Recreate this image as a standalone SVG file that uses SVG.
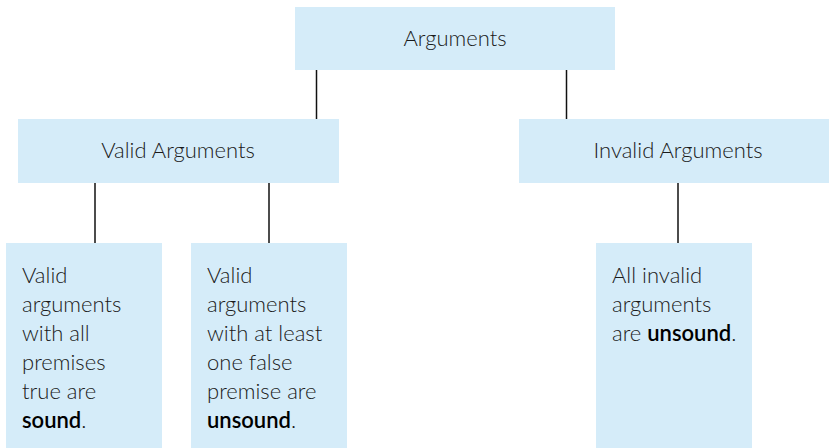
<svg xmlns="http://www.w3.org/2000/svg" width="829" height="448" viewBox="0 0 829 448">
<style>
.box{fill:#d5ecf9}
.t{font-family:"Lato","Liberation Sans",sans-serif;font-size:22px;font-weight:300;fill:#1a1a1a}
.c{text-anchor:middle}
.b{font-weight:600;fill:#000}
.ln{stroke:#111;stroke-width:1.5;fill:none}
</style>
<g id="connectors">
<line class="ln" x1="316.5" y1="70" x2="316.5" y2="119"/>
<line class="ln" x1="566.5" y1="70" x2="566.5" y2="119"/>
<line class="ln" x1="95" y1="183" x2="95" y2="243"/>
<line class="ln" x1="269" y1="183" x2="269" y2="243"/>
<line class="ln" x1="678" y1="183" x2="678" y2="243"/>
</g>
<g id="arguments">
<rect class="box" x="295" y="7" width="320" height="63"/>
<text class="t c" x="455" y="46">Arguments</text>
</g>
<g id="valid">
<rect class="box" x="18" y="119" width="321" height="64"/>
<text class="t c" x="178" y="158">Valid Arguments</text>
</g>
<g id="invalid">
<rect class="box" x="519" y="119" width="318" height="64"/>
<text class="t c" x="678" y="158">Invalid Arguments</text>
</g>
<g id="sound">
<rect class="box" x="6" y="243" width="156" height="205"/>
<text class="t" x="22" y="283">Valid</text>
<text class="t" x="22" y="312">arguments</text>
<text class="t" x="22" y="341">with all</text>
<text class="t" x="22" y="370">premises</text>
<text class="t" x="22" y="399">true are</text>
<text class="t" x="22" y="428"><tspan class="b">sound</tspan>.</text>
</g>
<g id="unsound-valid">
<rect class="box" x="191" y="243" width="156" height="205"/>
<text class="t" x="207" y="283">Valid</text>
<text class="t" x="207" y="312">arguments</text>
<text class="t" x="207" y="341">with at least</text>
<text class="t" x="207" y="370">one false</text>
<text class="t" x="207" y="399">premise are</text>
<text class="t" x="207" y="428"><tspan class="b">unsound</tspan>.</text>
</g>
<g id="unsound-invalid">
<rect class="box" x="596" y="243" width="156" height="205"/>
<text class="t" x="612" y="283">All invalid</text>
<text class="t" x="612" y="312">arguments</text>
<text class="t" x="612" y="341">are <tspan class="b">unsound</tspan>.</text>
</g>
</svg>
